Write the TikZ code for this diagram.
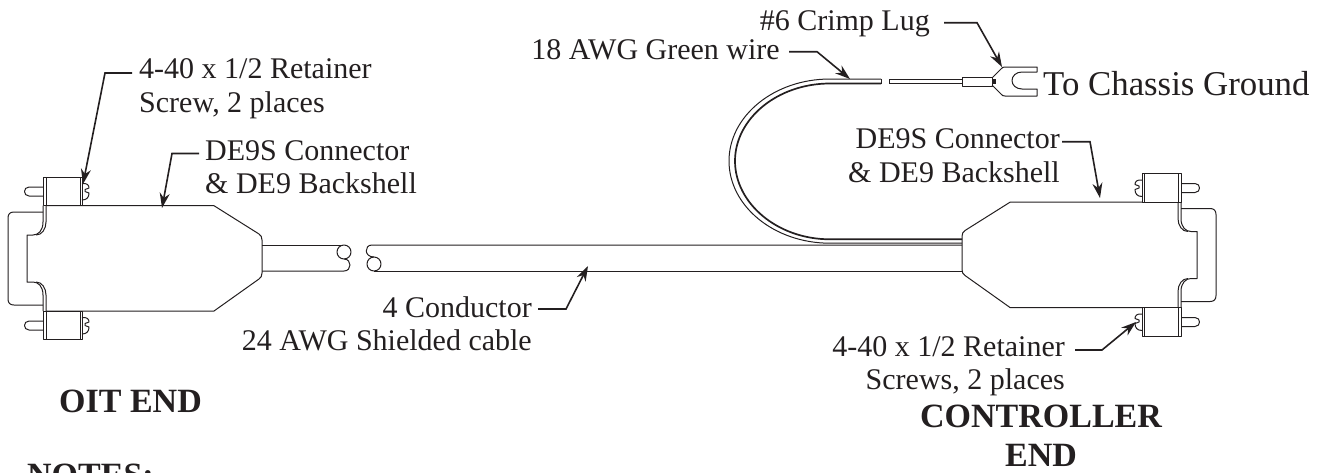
\documentclass[tikz,border=0pt]{standalone}
\usepackage{fontspec}
\setmainfont{Liberation Serif}
\usetikzlibrary{arrows.meta}
\definecolor{ink}{HTML}{231F20}
\tikzset{
  line/.style={draw=ink,line width=1pt,line join=round},
  heavy/.style={draw=ink,line width=1.7pt},
  leader/.style={draw=ink,line width=1.6pt,-{Stealth[length=15pt,width=10pt]}},
  lbl/.style={text=ink,inner sep=0pt,font=\fontsize{30}{34}\selectfont},
  big/.style={text=ink,inner sep=0pt,font=\fontsize{34.8}{38}\selectfont},
  title/.style={text=ink,inner sep=0pt,font=\fontsize{34}{38}\selectfont\bfseries},
  dsub/.pic={
    % body
    \draw[line] (46,205.7) -- (214,205.7) -- (259,234) .. controls (261,235.5) and (262,237) .. (262,240)
       -- (262,273) .. controls (262,276) and (261,277.5) .. (259,279) -- (214,311) -- (46,311);
    % flange and front shell
    \draw[line] (43,205.7) -- (43,222) .. controls (43,231) and (38,235) .. (33,235) -- (27,235) -- (27,282) -- (33,282)
       .. controls (38,282) and (43,286) .. (43,295) -- (43,311);
    \draw[line] (46,205.7) -- (46,222) .. controls (46,229) and (42,235) .. (36,235);
    \draw[line] (46,311) -- (46,295) .. controls (46,288) and (42,282) .. (36,282);
    \draw[line] (43,212) -- (14,212) .. controls (10,212) and (8,214) .. (8,218) -- (8,299)
       .. controls (8,303) and (10,305) .. (14,305) -- (43,305);
    % screws
    \foreach \dy in {0,134}{
      \begin{scope}[yshift=-\dy pt]
        \draw[line,fill=white] (43,177) rectangle (82,205.7);
        \draw[line] (80,177) -- (80,205.7);
        \draw[line] (46,177) -- (46,205.7);
        \draw[line] (82,183.5) .. controls (87,183) and (89,185) .. (89,188) -- (85,189.5) -- (85,191.5) -- (89,193)
           .. controls (89,197) and (87,200) .. (82,200);
        \draw[line] (43,187) -- (29,187) .. controls (23,187) and (23,196) .. (29,196) -- (43,196);
      \end{scope}
    }
  }
}
\begin{document}
\begin{tikzpicture}[x=1pt,y=-1pt]
\useasboundingbox (0,0) rectangle (1327,472);
\clip (0,0) rectangle (1327,472);

% connectors
\pic at (0,0) {dsub};
\pic[xscale=-1] at (1224,-3.5) {dsub};

% shielded cable
\draw[line] (262,245) -- (342,245);
\draw[line] (262,271) -- (344,271) .. controls (352,271) and (352,259) .. (344,259);
\draw[line] (344,252) circle[radius=7pt];
\draw[line] (962,245) -- (372,245) .. controls (364,245) and (364,257) .. (374,257);
\draw[line] (962,271) -- (374,271);
\draw[line] (374,264) circle[radius=7pt];

% green wire loop
\draw[line] (962,243.2) -- (830,243.2) .. controls (774,243.2) and (729,206) .. (729,161)
   .. controls (729,116) and (774,79) .. (830,79) -- (881,79);
\draw[heavy] (962,239.3) -- (830,239.3) .. controls (777,239.3) and (735,203) .. (735,161)
   .. controls (735,119) and (777,83.5) .. (830,83.5) -- (881,83.5);
\draw[line] (881,79) -- (881,83.5);
\draw[line] (889,79.5) -- (962,79.5);
\draw[heavy] (889,83.5) -- (962,83.5);
\draw[line] (889,79.5) -- (889,83.5);

% crimp lug
\draw[line] (962,77) rectangle (992,86);
\fill[ink] (992,79) rectangle (996,84);
\draw[line] (992,78) -- (1001,69) .. controls (1002,67.5) and (1003,67) .. (1005,67) -- (1037,67) -- (1037,72) -- (1022,72)
   .. controls (1016,72) and (1012,76) .. (1012,80.5) .. controls (1012,85) and (1016,89) .. (1022,89)
   -- (1037,89) -- (1037,96) -- (1005,96) .. controls (1003,96) and (1002,95.5) .. (1001,94) -- (992,85);

% labels
\node[lbl,anchor=base west] (ls1) at (139,78) {4-40 x 1/2 Retainer};
\node[lbl,anchor=base west] (ls2) at (139,112) {Screw, 2 places};
\node[lbl,anchor=base west] (ld1) at (205,160) {DE9S Connector};
\node[lbl,anchor=base west] (ld2) at (205,193) {\& DE9 Backshell};
\node[lbl,anchor=base east] (rd1) at (1060,148) {DE9S Connector};
\node[lbl,anchor=base east] (rd2) at (1060,182) {\& DE9 Backshell};
\node[lbl,anchor=base east] (lug) at (930,30) {\#6 Crimp Lug};
\node[lbl,anchor=base east] (wire) at (780,59) {18 AWG Green wire};
\node[big,anchor=base west] (gnd) at (1043,95) {To Chassis Ground};
\node[lbl,anchor=base east] (c1) at (532,317) {4 Conductor};
\node[lbl,anchor=base east] (c2) at (532,350) {24 AWG Shielded cable};
\node[lbl,anchor=base east] (rs1) at (1065,356) {4-40 x 1/2 Retainer};
\node[lbl,anchor=base east] (rs2) at (1065,389) {Screws, 2 places};
\node[title,anchor=base west] (oit) at (59,412) {OIT END};
\node[title,anchor=base west] (notes) at (27,486) {NOTES:};
\node[title,anchor=base] (ctl1) at (1041,427) {CONTROLLER};
\node[title,anchor=base] (ctl2) at (1041,466) {END};

% leaders
\coordinate (e1) at (105,73);    \coordinate (t1) at (83,184);
\coordinate (e2) at (172,153.5); \coordinate (t2) at (162,208);
\coordinate (e3) at (1090,141.7);\coordinate (t3) at (1100,198);
\coordinate (e4) at (1102,350);  \coordinate (t4) at (1136,322);
\coordinate (e5) at (977,22.7);  \coordinate (t5) at (1002,67);
\coordinate (e6) at (817,51.7);  \coordinate (t6) at (850,79);
\coordinate (e7) at (566,309);   \coordinate (t7) at (588,266);
\draw[leader] ([xshift=-7pt]ls1.west |- e1) -- (e1) -- (t1);
\draw[leader] ([xshift=-6pt]ld1.west |- e2) -- (e2) -- (t2);
\draw[leader] ([xshift=2pt]rd1.east |- e3) -- (e3) -- (t3);
\draw[leader] ([xshift=10pt]rs1.east |- e4) -- (e4) -- (t4);
\draw[leader] ([xshift=14pt]lug.east |- e5) -- (e5) -- (t5);
\draw[leader] ([xshift=9pt]wire.east |- e6) -- (e6) -- (t6);
\draw[leader] ([xshift=6pt]c1.east |- e7) -- (e7) -- (t7);
\end{tikzpicture}
\end{document}
